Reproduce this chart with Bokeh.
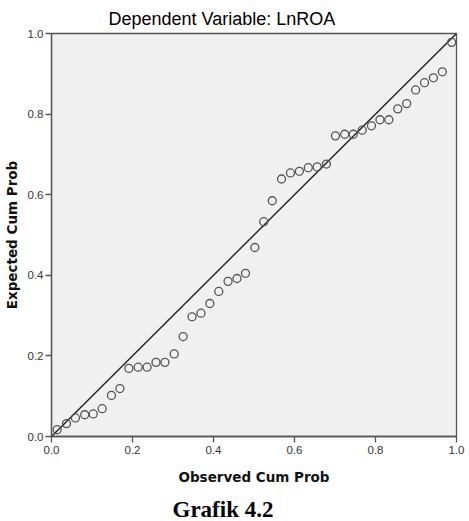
from bokeh.plotting import figure
from bokeh.models import FixedTicker, Title
from bokeh.embed import file_html
from bokeh.resources import INLINE

observed_cum_prob = [0.014, 0.037, 0.059, 0.082, 0.103, 0.125, 0.148, 0.169, 0.191, 0.214,
                     0.236, 0.258, 0.280, 0.303, 0.325, 0.347, 0.369, 0.391, 0.413, 0.436,
                     0.458, 0.479, 0.502, 0.524, 0.545, 0.568, 0.590, 0.612, 0.634, 0.656,
                     0.679, 0.701, 0.724, 0.745, 0.767, 0.790, 0.811, 0.833, 0.855, 0.877,
                     0.899, 0.921, 0.943, 0.965, 0.988]
expected_cum_prob = [0.017, 0.032, 0.046, 0.054, 0.056, 0.069, 0.102, 0.119, 0.169, 0.172,
                     0.172, 0.184, 0.184, 0.205, 0.248, 0.297, 0.306, 0.330, 0.360, 0.385,
                     0.392, 0.405, 0.469, 0.533, 0.585, 0.639, 0.654, 0.658, 0.667, 0.669,
                     0.676, 0.746, 0.750, 0.750, 0.760, 0.771, 0.786, 0.786, 0.813, 0.826,
                     0.860, 0.878, 0.890, 0.905, 0.978]
ticks = [0.0, 0.2, 0.4, 0.6, 0.8, 1.0]
tick_labels = {0.0: "0.0", 0.2: "0.2", 0.4: "0.4", 0.6: "0.6", 0.8: "0.8", 1.0: "1.0"}

p = figure(frame_width=405, frame_height=403, x_range=(0, 1), y_range=(0, 1),
           output_backend="svg", toolbar_location=None,
           min_border_left=51, min_border_right=13, min_border_top=33, min_border_bottom=85)
p.background_fill_color = "#f0f0f0"
p.border_fill_color = "white"
p.outline_line_color = "#555555"
p.outline_line_width = 1.3
p.grid.visible = False

p.title.text = "Dependent Variable: LnROA"
p.title.text_font = "Liberation Sans"
p.title.text_font_size = "18px"
p.title.text_font_style = "normal"
p.title.text_color = "#000000"
p.title.align = "left"
p.title.offset = 57

for ax in (p.xaxis[0], p.yaxis[0]):
    ax.ticker = FixedTicker(ticks=ticks)
    ax.major_label_overrides = tick_labels
    ax.major_label_text_font = "Liberation Sans"
    ax.major_label_text_font_size = "11.5px"
    ax.major_label_text_color = "#333333"
    ax.axis_line_color = "#555555"
    ax.axis_line_width = 1.3
    ax.major_tick_line_color = "#555555"
    ax.major_tick_line_width = 1.3
    ax.major_tick_in = 0
    ax.major_tick_out = 6
    ax.minor_tick_line_color = None
    ax.axis_label_text_font = "DejaVu Sans"
    ax.axis_label_text_font_style = "bold"
    ax.axis_label_text_font_size = "13.5px"
    ax.axis_label_text_color = "#111111"

p.xaxis.axis_label = "Observed Cum Prob"
p.yaxis.axis_label = "Expected Cum Prob"
p.xaxis.major_label_standoff = 3
p.yaxis.major_label_standoff = 2
p.xaxis.axis_label_standoff = 12
p.yaxis.axis_label_standoff = 5

p.line([0, 1], [0, 1], line_color="#222222", line_width=1.4)
p.scatter(observed_cum_prob, expected_cum_prob, size=8, fill_color=None,
          line_color="#555555", line_width=1.3)

cap = Title(text="Grafik 4.2", text_font="Liberation Serif", text_font_size="23px",
            text_font_style="bold", text_color="#000000", align="left", offset=121,
            standoff=14)
p.add_layout(cap, "below")

open("out.html", "w").write(file_html(p, INLINE))
